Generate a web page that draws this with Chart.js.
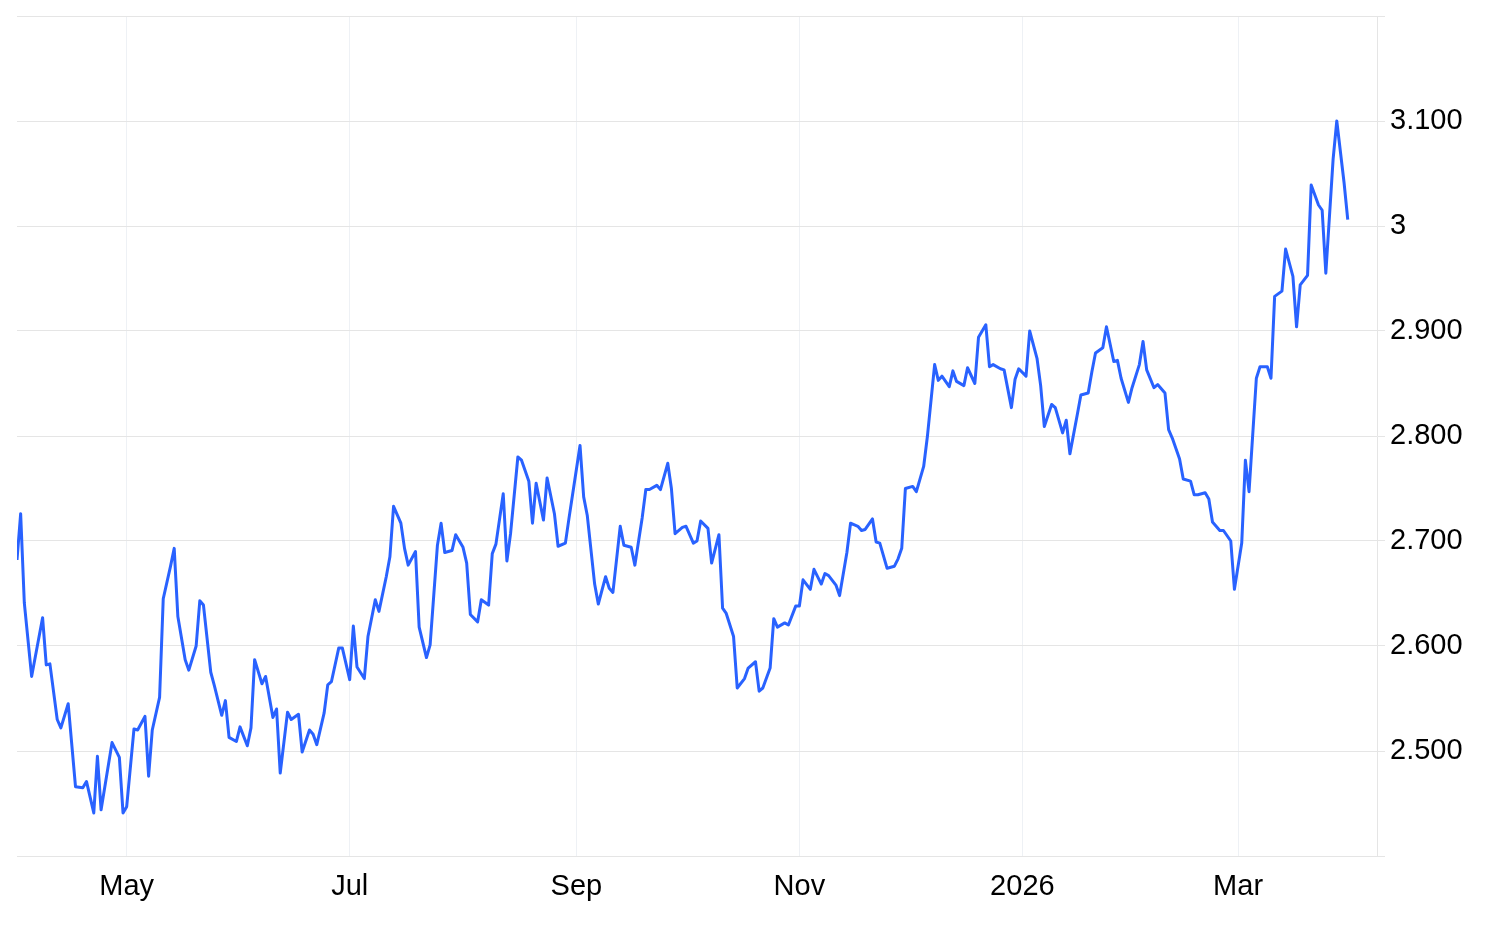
<!DOCTYPE html>
<html>
<head>
<meta charset="utf-8">
<script src="https://cdn.jsdelivr.net/npm/chart.js@4.4.1/dist/chart.umd.min.js"></script>
<style>
html, body { margin: 0; padding: 0; background: #fff; }
#wrap { width: 1500px; height: 925px; position: relative; }
</style>
</head>
<body>
<div id="wrap"><canvas id="priceChart"></canvas></div>
<script>
// days counted from 1 Apr 2025
const startDate = Date.UTC(2025, 3, 1);

const days = [
  0, 1, 2, 4, 7, 8, 9, 11, 12, 14,
  16, 18, 19, 21, 22, 23, 26, 28, 29, 30,
  32, 33, 35, 36, 37, 39, 40, 42, 43, 44,
  46, 47, 49, 50, 51, 53, 54, 56, 57, 58,
  60, 61, 63, 64, 65, 67, 68, 70, 71, 72,
  74, 75, 77, 78, 80, 81, 82, 84, 85, 86,
  88, 89, 91, 92, 93, 95, 96, 98, 99, 101,
  102, 103, 105, 106, 107, 109, 110, 112, 113, 115,
  116, 117, 119, 120, 122, 123, 124, 126, 127, 129,
  130, 131, 133, 134, 135, 137, 138, 140, 141, 142,
  144, 145, 147, 148, 150, 151, 152, 154, 155, 156,
  158, 159, 161, 162, 163, 165, 166, 168, 169, 171,
  172, 173, 175, 176, 178, 179, 180, 182, 183, 185,
  186, 187, 189, 190, 192, 193, 194, 196, 197, 199,
  200, 202, 203, 204, 206, 207, 208, 210, 211, 213,
  214, 215, 217, 218, 220, 221, 222, 224, 225, 227,
  228, 230, 231, 232, 234, 235, 236, 238, 240, 241,
  242, 243, 245, 246, 248, 249, 251, 252, 253, 255,
  256, 257, 259, 260, 262, 263, 265, 266, 267, 269,
  270, 272, 273, 274, 276, 277, 279, 280, 281, 283,
  284, 286, 287, 288, 290, 291, 293, 294, 295, 297,
  298, 300, 301, 302, 304, 305, 307, 308, 309, 311,
  312, 314, 315, 316, 318, 319, 321, 322, 323, 325,
  326, 327, 329, 330, 332, 333, 335, 336, 337, 339,
  340, 342, 343, 344, 346, 347, 349, 350, 351, 353,
  354, 356, 357, 358, 360, 361, 363, 364
];

const prices = [
  2.682, 2.726, 2.641, 2.571, 2.627, 2.582, 2.583, 2.530, 2.522, 2.545,
  2.466, 2.465, 2.471, 2.441, 2.495, 2.444, 2.508, 2.494, 2.441, 2.447,
  2.521, 2.520, 2.533, 2.476, 2.520, 2.551, 2.645, 2.676, 2.693, 2.628,
  2.587, 2.577, 2.600, 2.643, 2.639, 2.575, 2.562, 2.534, 2.548, 2.513,
  2.509, 2.523, 2.505, 2.522, 2.587, 2.564, 2.571, 2.532, 2.540, 2.479,
  2.537, 2.530, 2.535, 2.499, 2.520, 2.516, 2.506, 2.536, 2.563, 2.566,
  2.598, 2.598, 2.568, 2.619, 2.580, 2.569, 2.609, 2.644, 2.633, 2.666,
  2.685, 2.733, 2.717, 2.693, 2.677, 2.690, 2.618, 2.589, 2.601, 2.696,
  2.717, 2.689, 2.691, 2.706, 2.694, 2.679, 2.630, 2.623, 2.644, 2.639,
  2.688, 2.697, 2.745, 2.681, 2.707, 2.780, 2.777, 2.757, 2.717, 2.755,
  2.720, 2.760, 2.726, 2.695, 2.698, 2.722, 2.745, 2.791, 2.742, 2.724,
  2.659, 2.640, 2.666, 2.655, 2.651, 2.714, 2.696, 2.694, 2.677, 2.722,
  2.749, 2.749, 2.753, 2.749, 2.774, 2.750, 2.707, 2.713, 2.714, 2.698,
  2.700, 2.719, 2.712, 2.679, 2.706, 2.636, 2.631, 2.609, 2.560, 2.569,
  2.579, 2.585, 2.557, 2.560, 2.579, 2.626, 2.618, 2.622, 2.620, 2.638,
  2.638, 2.663, 2.654, 2.673, 2.659, 2.669, 2.667, 2.658, 2.648, 2.689,
  2.717, 2.714, 2.710, 2.711, 2.721, 2.699, 2.698, 2.674, 2.676, 2.683,
  2.693, 2.750, 2.752, 2.747, 2.771, 2.799, 2.868, 2.853, 2.857, 2.847,
  2.862, 2.852, 2.848, 2.865, 2.850, 2.894, 2.906, 2.866, 2.868, 2.864,
  2.863, 2.827, 2.854, 2.864, 2.857, 2.900, 2.874, 2.848, 2.809, 2.830,
  2.827, 2.803, 2.815, 2.783, 2.820, 2.839, 2.841, 2.861, 2.879, 2.884,
  2.904, 2.871, 2.872, 2.855, 2.832, 2.846, 2.868, 2.890, 2.863, 2.846,
  2.849, 2.841, 2.806, 2.798, 2.778, 2.759, 2.757, 2.744, 2.744, 2.746,
  2.740, 2.718, 2.710, 2.710, 2.700, 2.654, 2.698, 2.777, 2.747, 2.855,
  2.866, 2.866, 2.855, 2.933, 2.938, 2.978, 2.952, 2.904, 2.944, 2.953,
  3.039, 3.020, 3.015, 2.955, 3.064, 3.100, 3.041, 3.006
];

const xTickDates = ['2025-05-01', '2025-07-01', '2025-09-01', '2025-11-01', '2026-01-01', '2026-03-01'];
const xTickLabels = ['May', 'Jul', 'Sep', 'Nov', '2026', 'Mar'];
const yTickValues = [2.5, 2.6, 2.7, 2.8, 2.9, 3.0, 3.1];
const yTickLabels = ['2.500', '2.600', '2.700', '2.800', '2.900', '3', '3.100'];

function dayOf(s) {
  return (Date.parse(s) - startDate) / 86400000;
}
const xTickDays = xTickDates.map(dayOf);

const points = days.map((d, i) => ({ x: d, y: prices[i] }));
const labelFont = { family: 'Helvetica, Arial, "Liberation Sans", sans-serif', size: 29 };

let ctx = document.getElementById('priceChart').getContext('2d');
let chart = new Chart(ctx, {
  type: 'line',
  data: {
    datasets: [{
      data: points,
      borderColor: '#2962ff',
      borderWidth: 3,
      pointRadius: 0,
      tension: 0,
      borderJoinStyle: 'round',
      fill: false
    }]
  },
  options: {
    responsive: true,
    maintainAspectRatio: false,
    animation: false,
    layout: { padding: { left: 17, top: 0, right: 0, bottom: 0 } },
    plugins: { legend: { display: false }, tooltip: { enabled: false } },
    scales: {
      x: {
        type: 'linear',
        min: 0,
        max: 372,
        afterBuildTicks: (axis) => {
          axis.ticks = xTickDays.map(v => ({ value: v }));
        },
        afterFit: (axis) => { axis.height = 69; },
        grid: { color: '#eef1f5', drawTicks: false },
        border: { color: '#e5e5e5' },
        ticks: {
          autoSkip: false,
          maxRotation: 0,
          padding: 14,
          color: '#000',
          font: labelFont,
          callback: (v, i) => xTickLabels[i]
        }
      },
      y: {
        position: 'right',
        min: 2.4,
        max: 3.2,
        afterFit: (axis) => {
          axis.width = 123;
          axis.paddingTop = 16;
          axis.paddingBottom = 0;
        },
        grid: { color: '#e5e5e5', tickLength: 8, tickColor: '#e5e5e5' },
        border: { color: '#e5e5e5' },
        ticks: {
          stepSize: 0.1,
          padding: 5,
          color: '#000',
          font: labelFont,
          callback: (v) => {
            const i = yTickValues.findIndex(t => Math.abs(t - v) < 1e-6);
            return i >= 0 ? yTickLabels[i] : '';
          }
        }
      }
    }
  }
});
</script>
</body>
</html>
